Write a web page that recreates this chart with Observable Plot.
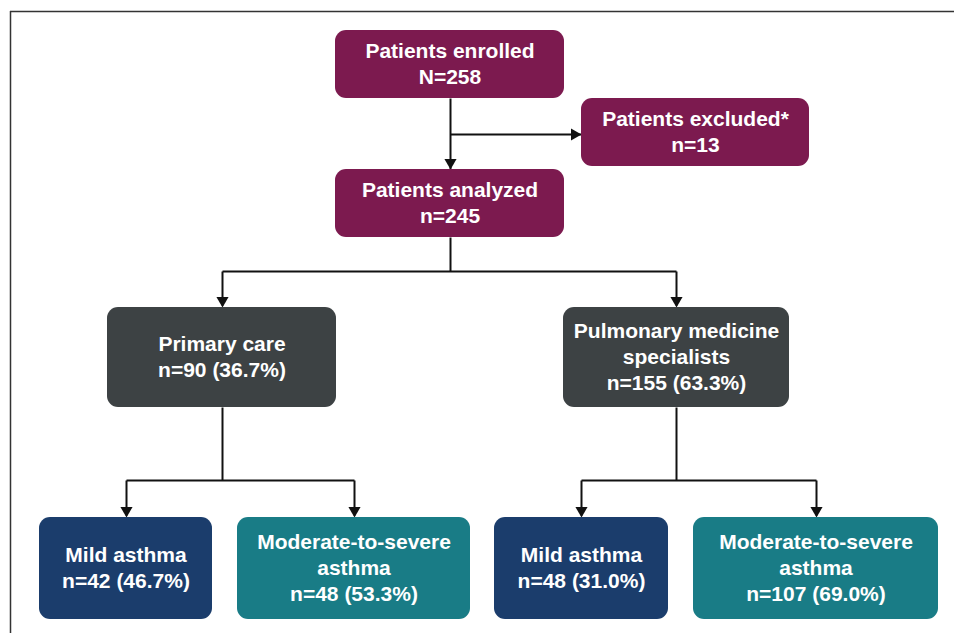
<!DOCTYPE html>
<html>
<head>
<meta charset="utf-8">
<script src="https://cdn.jsdelivr.net/npm/d3@7"></script>
<script src="https://cdn.jsdelivr.net/npm/@observablehq/plot@0.6"></script>
<style>
  html, body { margin: 0; padding: 0; background: #fff; }
  svg { display: block; }
</style>
</head>
<body>
<div id="chart"></div>
<script>
// ---- Data ----
const nodeIds = ["enrolled", "excluded", "analyzed", "primary", "pulmonary", "mild1", "modsev1", "mild2", "modsev2"];
const nodeLabels = [
  "Patients enrolled",
  "Patients excluded*",
  "Patients analyzed",
  "Primary care",
  "Pulmonary medicine\nspecialists",
  "Mild asthma",
  "Moderate-to-severe\nasthma",
  "Mild asthma",
  "Moderate-to-severe\nasthma"
];
const countPrefix = ["N", "n", "n", "n", "n", "n", "n", "n", "n"];
const nodeCounts = [258, 13, 245, 90, 155, 42, 48, 48, 107];
const nodePercents = [null, null, null, 36.7, 63.3, 46.7, 53.3, 31.0, 69.0];
const nodeGroups = ["flow", "flow", "flow", "setting", "setting", "mild", "modsev", "mild", "modsev"];
const nodeParents = [null, "enrolled", "enrolled", "analyzed", "analyzed", "primary", "primary", "pulmonary", "pulmonary"];

// ---- Layout (pixel frame of the diagram) ----
const boxX1 = [335, 581, 335, 107, 563, 39, 237, 494, 693];
const boxX2 = [564, 809, 564, 336, 789, 212, 470, 668, 938];
const boxY1 = [30, 98, 169, 307, 307, 517, 517, 517, 517];
const boxY2 = [98, 166, 237, 407, 407, 619, 619, 619, 619];
const groupDomain = ["flow", "setting", "mild", "modsev"];
const groupColors = ["#7c1a4f", "#3d4244", "#1b3d6c", "#197c86"];
const branchY = {analyzed: 271, primary: 480, pulmonary: 480};
const sideBranchY = 134; // exclusion branch
const spineX = 450;

const nodes = nodeIds.map((id, i) => ({
  id,
  label: nodeLabels[i] + "\n" + countPrefix[i] + "=" + nodeCounts[i] +
    (nodePercents[i] != null ? " (" + nodePercents[i].toFixed(1) + "%)" : ""),
  group: nodeGroups[i],
  parent: nodeParents[i],
  x1: boxX1[i], x2: boxX2[i], y1: boxY1[i], y2: boxY2[i],
  cx: (boxX1[i] + boxX2[i]) / 2, cy: (boxY1[i] + boxY2[i]) / 2
}));
const byId = Object.fromEntries(nodes.map(n => [n.id, n]));

// connectors
const segs = [];
const heads = [];
const headOff = 7;
// enrolled -> analyzed (vertical spine)
segs.push({x1: spineX, y1: byId.enrolled.y2, x2: spineX, y2: byId.analyzed.y1});
heads.push({x: spineX, y: byId.analyzed.y1 - headOff, rot: 180});
// enrolled -> excluded (side branch)
segs.push({x1: spineX, y1: sideBranchY, x2: byId.excluded.x1, y2: sideBranchY});
heads.push({x: byId.excluded.x1 - headOff, y: sideBranchY, rot: 90});
// tree branches
for (const pid of ["analyzed", "primary", "pulmonary"]) {
  const p = byId[pid];
  const kids = nodes.filter(n => n.parent === pid);
  const px = pid === "analyzed" ? spineX : Math.round(p.cx);
  const by = branchY[pid];
  segs.push({x1: px, y1: p.y2, x2: px, y2: by});
  const xs = kids.map(k => Math.round(k.cx));
  segs.push({x1: d3.min(xs), y1: by, x2: d3.max(xs), y2: by});
  for (const k of kids) {
    const kx = Math.round(k.cx);
    segs.push({x1: kx, y1: by, x2: kx, y2: k.y1 - 2});
    heads.push({x: kx, y: k.y1 - headOff, rot: 180});
  }
}

const W = 954, H = 633;
const chart = Plot.plot({
  width: W,
  height: H,
  margin: 0,
  style: {background: "#fff"},
  x: {domain: [0, W], range: [0, W], axis: null},
  y: {domain: [0, H], range: [0, H], axis: null},
  color: {domain: groupDomain, range: groupColors},
  marks: [
    // frame (top and left edges)
    Plot.ruleY([11], {x1: 10, x2: W, stroke: "#333", strokeWidth: 1.5}),
    Plot.ruleX([10], {y1: 11, y2: H, stroke: "#333", strokeWidth: 1.5}),
    // connectors
    Plot.link(segs, {x1: "x1", y1: "y1", x2: "x2", y2: "y2", stroke: "#111", strokeWidth: 2}),
    Plot.dot(heads, {x: "x", y: "y", rotate: "rot", symbol: "triangle", r: 4.5, fill: "#111", stroke: null}),
    // boxes
    Plot.rect(nodes, {x1: "x1", x2: "x2", y1: "y1", y2: "y2", fill: "group", rx: 11}),
    // labels
    Plot.text(nodes, {
      x: "cx", y: "cy", text: "label", dy: -2,
      fill: "#fff", fontSize: 21, fontWeight: "bold",
      fontFamily: "'Liberation Sans', Arial, sans-serif",
      lineAnchor: "middle", lineHeight: 1.24, textAnchor: "middle"
    })
  ]
});
document.getElementById("chart").appendChild(chart);
</script>
</body>
</html>
